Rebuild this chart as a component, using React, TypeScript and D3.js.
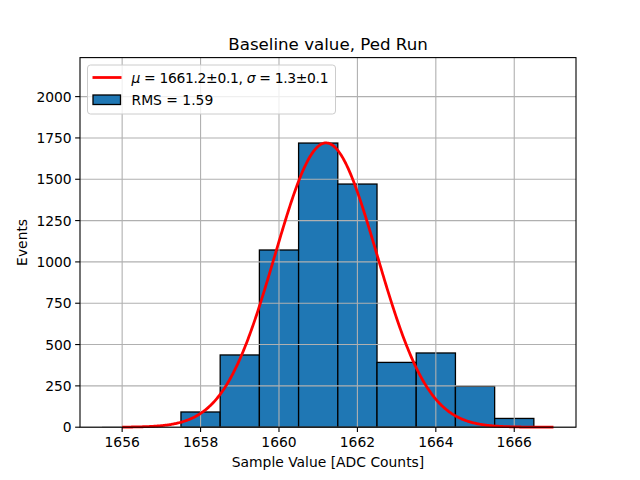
import React from "react";
import * as d3 from "d3";

const binCenters = [1656, 1657, 1658, 1659, 1660, 1661, 1662, 1663, 1664, 1665, 1666];
const counts = [1, 0, 92, 437, 1072, 1719, 1471, 392, 449, 247, 53];
const fitMu = 1661.2;
const fitSigma = 1.3;
const fitAmp = 1720;
const fitRange = [1656, 1667];
const xTicks = [1656, 1658, 1660, 1662, 1664, 1666];
const yTicks = [0, 250, 500, 750, 1000, 1250, 1500, 1750, 2000];
const title = "Baseline value, Ped Run";
const xLabel = "Sample Value [ADC Counts]";
const yLabel = "Events";
const rmsLabel = "RMS = 1.59";

const W = 640, H = 480;
const L = 80, R = 576, T = 57.6, B = 427.2;
const FONT = "DejaVu Sans, sans-serif";
const FS = 13.89;

export default function App() {
  const x = d3.scaleLinear().domain([1654.925, 1667.575]).range([L, R]);
  const y = d3.scaleLinear().domain([0, 1720 * 1.3]).range([B, T]);

  const fitX = d3.range(0, 501).map((i) => fitRange[0] + ((fitRange[1] - fitRange[0]) * i) / 500);
  const line = d3
    .line<number>()
    .x((v) => x(v))
    .y((v) => y(fitAmp * Math.exp(-((v - fitMu) ** 2) / (2 * fitSigma * fitSigma))));

  const legX = 87.5, legY = 65;
  return (
    <div style={{ position: "fixed", left: 0, top: 0 }}>
      <svg width={W} height={H} style={{ display: "block", background: "#fff" }} fontFamily={FONT}>
        <rect x={0} y={0} width={W} height={H} fill="#fff" />
        {binCenters.map((c, i) =>
          counts[i] > 0 ? (
            <rect
              key={i}
              x={x(c - 0.5)}
              y={y(counts[i])}
              width={x(c + 0.5) - x(c - 0.5)}
              height={B - y(counts[i])}
              fill="#1f77b4"
              stroke={counts[i] < 5 ? "#999" : "#000"}
              strokeWidth={counts[i] < 5 ? 0.8 : 1.3}
            />
          ) : null
        )}
        {xTicks.map((t) => (
          <line key={"gx" + t} x1={x(t)} x2={x(t)} y1={T} y2={B} stroke="#b0b0b0" strokeWidth={1.1} />
        ))}
        {yTicks.map((t) => (
          <line key={"gy" + t} x1={L} x2={R} y1={y(t)} y2={y(t)} stroke="#b0b0b0" strokeWidth={1.1} />
        ))}
        <path d={line(fitX) || ""} fill="none" stroke="red" strokeWidth={2.78} />
        <rect x={L} y={T} width={R - L} height={B - T} fill="none" stroke="#000" strokeWidth={1.1} />
        {xTicks.map((t) => (
          <g key={"tx" + t}>
            <line x1={x(t)} x2={x(t)} y1={B} y2={B + 4.86} stroke="#000" strokeWidth={1.1} />
            <text x={x(t)} y={B + 20} textAnchor="middle" fontSize={FS} fill="#000">
              {t}
            </text>
          </g>
        ))}
        {yTicks.map((t) => (
          <g key={"ty" + t}>
            <line x1={L - 4.86} x2={L} y1={y(t)} y2={y(t)} stroke="#000" strokeWidth={1.1} />
            <text x={L - 8.3} y={y(t) + 5} textAnchor="end" fontSize={FS} fill="#000">
              {t}
            </text>
          </g>
        ))}
        <text x={(L + R) / 2} y={467} textAnchor="middle" fontSize={FS} fill="#000">
          {xLabel}
        </text>
        <text
          transform={`translate(27,${(T + B) / 2}) rotate(-90)`}
          textAnchor="middle"
          fontSize={FS}
          fill="#000"
        >
          {yLabel}
        </text>
        <text x={(L + R) / 2} y={49.5} textAnchor="middle" fontSize={16.67} fill="#000">
          {title}
        </text>
        <g>
          <rect
            x={legX}
            y={legY}
            width={248}
            height={49}
            rx={3}
            fill="#fff"
            fillOpacity={0.8}
            stroke="#cccccc"
            strokeWidth={1}
          />
          <line x1={legX + 5} x2={legX + 34} y1={legY + 12.5} y2={legY + 12.5} stroke="red" strokeWidth={2.78} />
          <text x={legX + 44} y={legY + 17.5} fontSize={FS} fill="#000" textLength={197} lengthAdjust="spacing">
            <tspan fontStyle="italic">μ</tspan>
            <tspan> = 1661.2±0.1, </tspan>
            <tspan fontStyle="italic">σ</tspan>
            <tspan> = 1.3±0.1</tspan>
          </text>
          <rect x={legX + 5.5} y={legY + 30} width={27.5} height={9.5} fill="#1f77b4" stroke="#000" strokeWidth={1.3} />
          <text x={legX + 44} y={legY + 40} fontSize={FS} fill="#000">
            {rmsLabel}
          </text>
        </g>
      </svg>
    </div>
  );
}
